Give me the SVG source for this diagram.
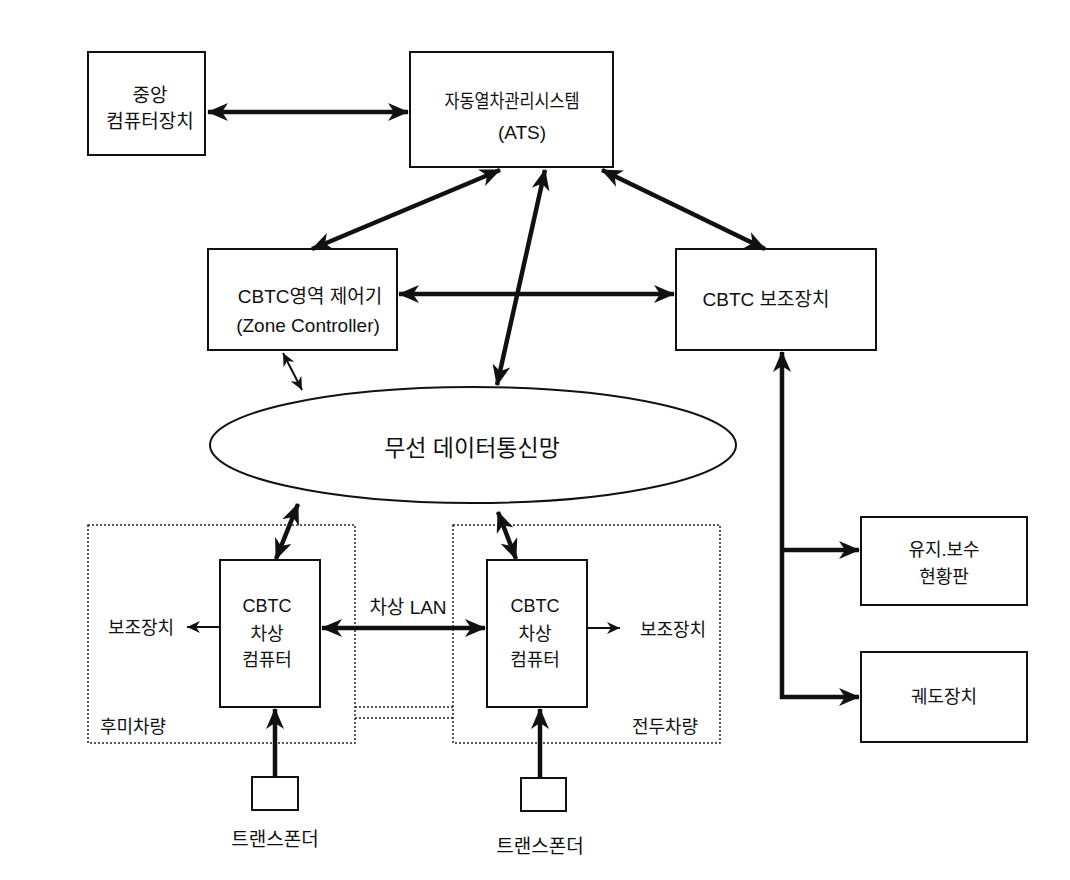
<svg xmlns="http://www.w3.org/2000/svg" width="1070" height="880" viewBox="0 0 1070 880">
<style>
.box{fill:#fff;stroke:#111;stroke-width:2}
.dot{fill:none;stroke:#222;stroke-width:1.5;stroke-dasharray:2 2}
.t{font-family:"Liberation Sans","Noto Sans CJK KR",sans-serif;font-size:18px;fill:#111;text-anchor:middle}
.m{font-size:19px}
.big{font-size:23px}
.thick{stroke:#111;stroke-width:4.5;fill:none}
.thin{stroke:#111;stroke-width:2;fill:none}
</style>
<defs>
<marker id="ah" markerUnits="userSpaceOnUse" markerWidth="22" markerHeight="18" refX="20" refY="9" orient="auto-start-reverse" viewBox="0 0 22 18">
<path d="M0,0 L21,9 L0,18 L6,9 z" fill="#111"/>
</marker>
<marker id="as" markerUnits="userSpaceOnUse" markerWidth="14" markerHeight="12" refX="13" refY="6" orient="auto-start-reverse" viewBox="0 0 14 12">
<path d="M0,0 L13,6 L0,12 L4,6 z" fill="#111"/>
</marker>
</defs>

<g id="car-rear"><rect class="dot" x="88" y="525" width="267" height="218"/><text class="t" x="133" y="733">후미차량</text></g>
<g id="car-front"><rect class="dot" x="453" y="525" width="267" height="218"/><text class="t" x="665" y="733">전두차량</text></g>
<g id="car-link"><line class="dot" x1="355" y1="707" x2="453" y2="707"/><line class="dot" x1="355" y1="718" x2="453" y2="718"/></g>

<g id="central"><rect class="box" x="88" y="52" width="117" height="103"/><text class="t m" x="150" y="102">중앙</text><text class="t m" x="150" y="128">컴퓨터장치</text></g>
<g id="ats"><rect class="box" x="410" y="52" width="203" height="115"/><text class="t" x="512" y="108" style="font-size:19px" textLength="135" lengthAdjust="spacingAndGlyphs">자동열차관리시스템</text><text class="t m" x="522" y="139">(ATS)</text></g>
<g id="zone"><rect class="box" x="208" y="249" width="189" height="101"/><text class="t m" x="310" y="303">CBTC영역 제어기</text><text class="t m" x="308" y="332">(Zone Controller)</text></g>
<g id="aux"><rect class="box" x="676" y="249" width="200" height="101"/><text class="t m" x="766" y="306">CBTC 보조장치</text></g>
<g id="radio"><ellipse cx="473" cy="445" rx="263" ry="58" fill="#fff" stroke="#111" stroke-width="2"/><text class="t big" x="472" y="456">무선 데이터통신망</text></g>
<g id="obc-rear"><rect class="box" x="220" y="560" width="100" height="147"/><text class="t" x="267" y="612">CBTC</text><text class="t" x="267" y="640">차상</text><text class="t" x="267" y="666">컴퓨터</text></g>
<g id="obc-front"><rect class="box" x="487" y="560" width="100" height="147"/><text class="t" x="535" y="612">CBTC</text><text class="t" x="535" y="640">차상</text><text class="t" x="535" y="666">컴퓨터</text></g>
<g id="aux-rear"><text class="t" x="141" y="634">보조장치</text></g>
<g id="aux-front"><text class="t" x="673" y="636">보조장치</text></g>
<g id="lan-label"><text class="t m" x="408" y="614">차상 LAN</text></g>
<g id="tp-rear"><rect class="box" x="252" y="777" width="46" height="33"/><text class="t m" x="275" y="846">트랜스폰더</text></g>
<g id="tp-front"><rect class="box" x="521" y="778" width="45" height="33"/><text class="t m" x="540" y="853">트랜스폰더</text></g>
<g id="maint"><rect class="box" x="861" y="517" width="166" height="88"/><text class="t" x="944" y="556">유지.보수</text><text class="t" x="944" y="583">현황판</text></g>
<g id="track"><rect class="box" x="861" y="652" width="166" height="90"/><text class="t" x="944" y="703">궤도장치</text></g>

<g id="connectors">
<line class="thick" x1="208" y1="112" x2="408" y2="112" marker-start="url(#ah)" marker-end="url(#ah)"/>
<line class="thick" x1="500" y1="170" x2="312" y2="249" marker-start="url(#ah)" marker-end="url(#ah)"/>
<line class="thick" x1="545" y1="170" x2="497" y2="385" marker-start="url(#ah)" marker-end="url(#ah)"/>
<line class="thick" x1="602" y1="170" x2="765" y2="249" marker-start="url(#ah)" marker-end="url(#ah)"/>
<line class="thick" x1="399" y1="294" x2="674" y2="294" marker-start="url(#ah)" marker-end="url(#ah)"/>
<line class="thin" x1="283" y1="353" x2="302" y2="390" marker-start="url(#as)" marker-end="url(#as)"/>
<line class="thick" x1="298" y1="504" x2="276" y2="559" marker-start="url(#ah)" marker-end="url(#ah)"/>
<line class="thick" x1="498" y1="512" x2="516" y2="559" marker-start="url(#ah)" marker-end="url(#ah)"/>
<line class="thin" x1="219" y1="627" x2="187" y2="627" marker-end="url(#as)"/>
<line class="thin" x1="588" y1="628" x2="620" y2="628" marker-end="url(#as)"/>
<line class="thick" x1="322" y1="628" x2="485" y2="628" marker-start="url(#ah)" marker-end="url(#ah)"/>
<line class="thick" x1="275" y1="777" x2="275" y2="709" marker-end="url(#ah)"/>
<line class="thick" x1="540" y1="778" x2="540" y2="709" marker-end="url(#ah)"/>
<polyline class="thick" points="782,352 782,697 859,697" marker-start="url(#ah)" marker-end="url(#ah)"/>
<line class="thick" x1="782" y1="550" x2="859" y2="550" marker-end="url(#ah)"/>
</g>
</svg>
